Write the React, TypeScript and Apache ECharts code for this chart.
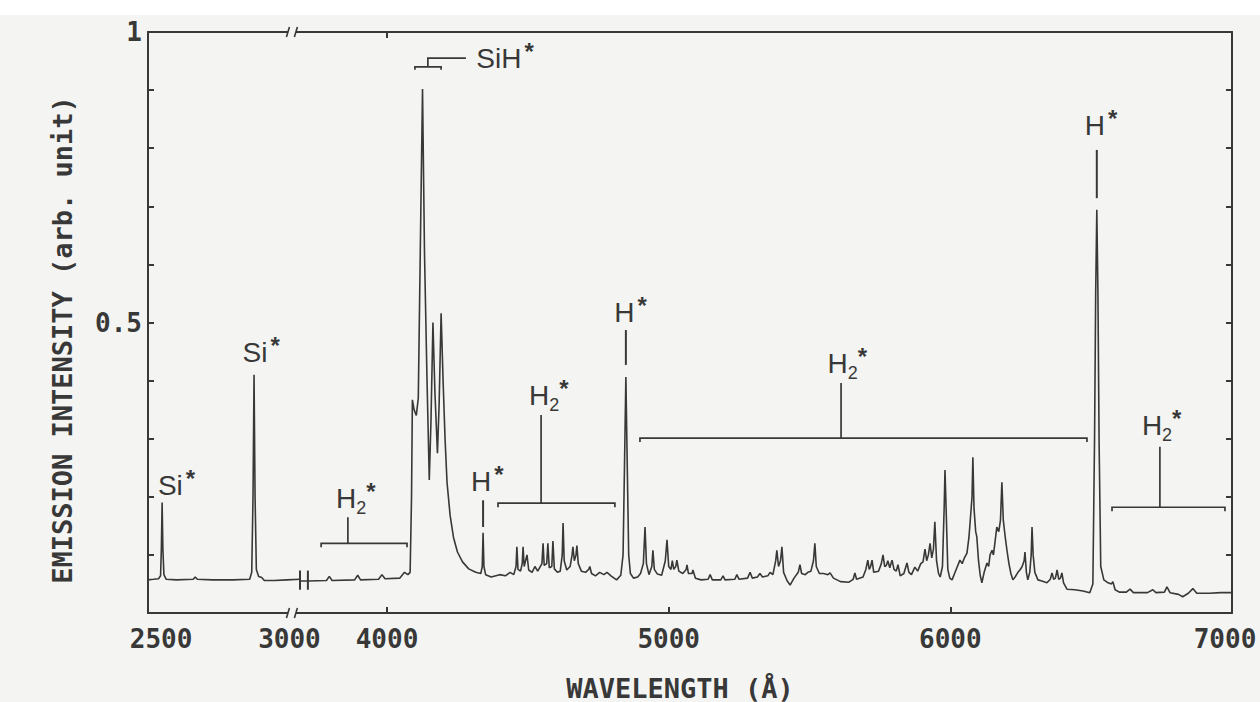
import React, { useEffect, useRef } from 'react';
import * as echarts from 'echarts';

// ---- axes: broken wavelength axis (short-wave and long-wave segments) ----
const shortRange = [2449, 3041];
const longRange = [3691, 7000];
const shortTickLabels = [2500, 3000];
const longTickLabels = [4000, 5000, 6000, 7000];
const longBottomTicks = [4000, 5000, 6000];
const longTopTicks = [4000];
const intensityTickLabels = [0.5, 1];

// ---- emission spectrum, [wavelength (Å), intensity (arb. unit)] ----
const spectrumShort: number[][] = [
  [2449, 0.057], [2470, 0.058], [2490, 0.059], [2498, 0.064], [2501, 0.11], [2504, 0.19], [2507, 0.11],
  [2511, 0.066], [2520, 0.058], [2560, 0.057], [2625, 0.058], [2633, 0.062], [2641, 0.058], [2700, 0.057],
  [2780, 0.057], [2845, 0.058], [2853, 0.07], [2858, 0.2], [2862, 0.41], [2866, 0.2], [2871, 0.075],
  [2880, 0.063], [2892, 0.061], [2902, 0.056], [2940, 0.056], [2990, 0.057], [3041, 0.058],
];

const spectrumLong: number[][] = [
  [3691, 0.055], [3719, 0.055], [3785, 0.056], [3795, 0.063], [3805, 0.056], [3885, 0.057], [3896, 0.065],
  [3906, 0.057], [3970, 0.058], [3982, 0.066], [3993, 0.059], [4045, 0.06], [4062, 0.07], [4074, 0.066],
  [4082, 0.07], [4087, 0.2], [4090, 0.367], [4096, 0.35], [4104, 0.34], [4111, 0.37], [4118, 0.62],
  [4126, 0.902], [4133, 0.62], [4142, 0.4], [4150, 0.229], [4156, 0.33], [4163, 0.5], [4170, 0.38],
  [4179, 0.275], [4185, 0.36], [4192, 0.516], [4199, 0.4], [4206, 0.3], [4213, 0.225], [4224, 0.168],
  [4236, 0.13], [4250, 0.105], [4268, 0.088], [4290, 0.076], [4315, 0.07], [4333, 0.068], [4338, 0.08],
  [4341, 0.138], [4344, 0.08], [4350, 0.066], [4370, 0.062], [4400, 0.066], [4420, 0.064], [4437, 0.07],
  [4450, 0.066], [4458, 0.08], [4461, 0.114], [4465, 0.075], [4474, 0.072], [4480, 0.085], [4483, 0.114],
  [4487, 0.08], [4497, 0.1], [4503, 0.074], [4515, 0.07], [4525, 0.08], [4535, 0.072], [4550, 0.085],
  [4554, 0.12], [4558, 0.082], [4567, 0.085], [4571, 0.12], [4576, 0.078], [4585, 0.08], [4589, 0.124],
  [4594, 0.076], [4605, 0.07], [4615, 0.072], [4622, 0.1], [4625, 0.155], [4629, 0.09], [4638, 0.074],
  [4650, 0.08], [4657, 0.1], [4660, 0.114], [4665, 0.09], [4671, 0.1], [4674, 0.116], [4679, 0.085],
  [4690, 0.072], [4705, 0.07], [4716, 0.075], [4720, 0.08], [4726, 0.068], [4740, 0.064], [4755, 0.07],
  [4770, 0.066], [4781, 0.07], [4795, 0.064], [4815, 0.057], [4830, 0.065], [4838, 0.1], [4843, 0.25],
  [4848, 0.406], [4853, 0.25], [4858, 0.1], [4864, 0.068], [4875, 0.06], [4890, 0.062], [4900, 0.068],
  [4910, 0.085], [4916, 0.148], [4921, 0.085], [4930, 0.066], [4940, 0.08], [4944, 0.108], [4949, 0.075],
  [4960, 0.067], [4975, 0.065], [4988, 0.09], [4994, 0.126], [5000, 0.08], [5008, 0.075], [5013, 0.09],
  [5018, 0.075], [5025, 0.08], [5029, 0.091], [5036, 0.072], [5050, 0.068], [5062, 0.075], [5065, 0.083],
  [5070, 0.068], [5083, 0.068], [5086, 0.074], [5095, 0.06], [5115, 0.057], [5140, 0.058], [5147, 0.066],
  [5155, 0.057], [5185, 0.057], [5193, 0.064], [5200, 0.057], [5235, 0.058], [5242, 0.066], [5250, 0.058],
  [5280, 0.06], [5289, 0.07], [5297, 0.06], [5315, 0.062], [5324, 0.068], [5333, 0.062], [5352, 0.064],
  [5360, 0.07], [5370, 0.066], [5380, 0.09], [5384, 0.108], [5390, 0.08], [5397, 0.09], [5402, 0.114],
  [5408, 0.07], [5420, 0.056], [5431, 0.048], [5445, 0.06], [5460, 0.07], [5466, 0.083], [5472, 0.068],
  [5485, 0.066], [5494, 0.07], [5505, 0.072], [5514, 0.09], [5519, 0.12], [5524, 0.08], [5535, 0.068],
  [5550, 0.068], [5565, 0.066], [5573, 0.069], [5585, 0.06], [5610, 0.054], [5640, 0.053], [5655, 0.058],
  [5661, 0.069], [5667, 0.058], [5690, 0.062], [5700, 0.075], [5707, 0.091], [5712, 0.075], [5717, 0.08],
  [5722, 0.091], [5728, 0.07], [5745, 0.072], [5755, 0.085], [5761, 0.1], [5767, 0.08], [5773, 0.082],
  [5778, 0.09], [5785, 0.078], [5793, 0.091], [5800, 0.075], [5808, 0.072], [5814, 0.083], [5822, 0.064],
  [5835, 0.068], [5846, 0.086], [5853, 0.07], [5862, 0.066], [5874, 0.079], [5884, 0.072], [5895, 0.085],
  [5903, 0.088], [5910, 0.11], [5916, 0.09], [5922, 0.1], [5928, 0.12], [5934, 0.095], [5940, 0.11],
  [5945, 0.157], [5951, 0.09], [5958, 0.068], [5964, 0.062], [5972, 0.08], [5978, 0.18], [5981, 0.246],
  [5985, 0.18], [5991, 0.075], [5998, 0.06], [6006, 0.057], [6015, 0.068], [6025, 0.08], [6034, 0.091],
  [6042, 0.085], [6050, 0.095], [6059, 0.103], [6066, 0.13], [6070, 0.155], [6077, 0.2], [6080, 0.268],
  [6084, 0.18], [6090, 0.14], [6094, 0.131], [6100, 0.09], [6106, 0.065], [6112, 0.052], [6120, 0.07],
  [6130, 0.086], [6136, 0.08], [6141, 0.1], [6148, 0.108], [6153, 0.1], [6158, 0.12], [6165, 0.148],
  [6172, 0.14], [6178, 0.16], [6183, 0.225], [6188, 0.16], [6195, 0.13], [6201, 0.108], [6208, 0.085],
  [6215, 0.068], [6222, 0.057], [6230, 0.062], [6240, 0.07], [6247, 0.074], [6255, 0.08], [6262, 0.09],
  [6265, 0.105], [6270, 0.07], [6275, 0.057], [6282, 0.07], [6287, 0.1], [6290, 0.148], [6294, 0.1],
  [6300, 0.07], [6311, 0.057], [6325, 0.055], [6343, 0.052], [6355, 0.058], [6361, 0.069], [6367, 0.058],
  [6373, 0.06], [6379, 0.074], [6385, 0.058], [6391, 0.06], [6396, 0.069], [6402, 0.052], [6414, 0.041],
  [6442, 0.04], [6471, 0.038], [6495, 0.035], [6506, 0.05], [6512, 0.3], [6516, 0.55], [6520, 0.694],
  [6524, 0.55], [6528, 0.3], [6534, 0.08], [6545, 0.057], [6560, 0.052], [6572, 0.05], [6577, 0.054],
  [6585, 0.04], [6600, 0.036], [6625, 0.036], [6638, 0.041], [6650, 0.035], [6700, 0.035], [6719, 0.04],
  [6730, 0.035], [6760, 0.036], [6769, 0.045], [6780, 0.035], [6810, 0.032], [6825, 0.028], [6845, 0.034],
  [6861, 0.042], [6875, 0.034], [6920, 0.034], [6960, 0.035], [7000, 0.035],
];

// ---- line assignments, in data coordinates ----
type Note = {
  kind: 'tag' | 'cut' | 'axisCut' | 'bracket' | 'pointer' | 'band';
  x?: number; low?: number; high?: number;
  from?: number; to?: number; level?: number; stem?: number; top?: number;
  mid?: number; rise?: number; end?: number;
  labelX?: number; labelY?: number; text?: string; sub?: string;
};

const notesShort: Note[] = [
  { kind: 'tag', labelX: 2536, labelY: 0.203, text: 'Si' },
  { kind: 'tag', labelX: 2866, labelY: 0.432, text: 'Si' },
  { kind: 'axisCut', from: 2994, to: 3025 },
];

const notesLong: Note[] = [
  { kind: 'cut', x: 3691, low: 0.04, high: 0.073 },
  { kind: 'cut', x: 3719, low: 0.04, high: 0.073 },
  { kind: 'bracket', from: 3766, to: 4071, level: 0.12, stem: 3861, top: 0.165, labelX: 3855, labelY: 0.181, text: 'H', sub: '2' },
  { kind: 'pointer', x: 4341, low: 0.148, high: 0.194, labelX: 4334, labelY: 0.21, text: 'H' },
  { kind: 'bracket', from: 4394, to: 4809, level: 0.189, stem: 4547, top: 0.341, labelX: 4540, labelY: 0.358, text: 'H', sub: '2' },
  { kind: 'pointer', x: 4848, low: 0.427, high: 0.487, labelX: 4843, labelY: 0.501, text: 'H' },
  { kind: 'bracket', from: 4898, to: 6485, level: 0.301, stem: 5612, top: 0.396, labelX: 5600, labelY: 0.413, text: 'H', sub: '2' },
  { kind: 'pointer', x: 6520, low: 0.714, high: 0.797, labelX: 6513, labelY: 0.823, text: 'H' },
  { kind: 'bracket', from: 6574, to: 6975, level: 0.182, stem: 6744, top: 0.286, labelX: 6716, labelY: 0.306, text: 'H', sub: '2' },
  { kind: 'band', from: 4099, to: 4192, level: 0.94, mid: 4145, rise: 0.955, end: 4280, labelX: 4397, labelY: 0.938, text: 'SiH' },
];

const INK = '#383838';
const BG = '#f4f5f2';
const LABEL_FONT = '"Liberation Sans", Arial, sans-serif';
const MONO_FONT = '"DejaVu Sans Mono", monospace';
const ADVANCE: Record<string, number> = { H: 0.722, S: 0.667, i: 0.222 };

// species label as one rich text: base letters (foot of the capitals at
// `bottom`, centred on cx), optional subscript, and the excited-state asterisk
function speciesLabel(cx: number, bottom: number, base: string, sub?: string) {
  const fs = 28;
  const lineH = 38;
  const w = [...base].reduce((s, c) => s + (ADVANCE[c] ?? 0.6), 0) * fs;
  const rich = {
    b: { fontSize: fs, lineHeight: lineH, fontFamily: LABEL_FONT, fill: INK },
    s: { fontSize: 18, lineHeight: 21, fontFamily: LABEL_FONT, fill: INK, verticalAlign: 'bottom' },
    st: {
      fontSize: 24, lineHeight: sub ? 16 : 22, fontFamily: LABEL_FONT, fontWeight: 'bold', fill: INK,
      verticalAlign: 'top', padding: sub ? [0, 0, 0, 0] : [0, 0, 0, 3],
    },
  };
  const text = sub ? `{b|${base}}{s|${sub}}{st|*}` : `{b|${base}}{st|*}`;
  return {
    type: 'text',
    x: cx - w / 2,
    y: bottom - (lineH / 2 + 0.35 * fs),
    style: {
      text, rich, fill: INK, fontSize: fs, fontFamily: LABEL_FONT,
      align: 'left', verticalAlign: 'top', textAlign: 'left', textVerticalAlign: 'top',
    },
  };
}

function noteRenderer(notes: Note[]) {
  return (params: any, api: any) => {
    const n = notes[params.dataIndex];
    const at = (x: number, y: number) => api.coord([x, y]);
    const kids: any[] = [];
    const stroke = (pts: number[][], w = 1.7) =>
      kids.push({ type: 'polyline', shape: { points: pts }, style: { stroke: INK, lineWidth: w, fill: null } });
    const label = () => {
      const p = at(n.labelX!, n.labelY!);
      kids.push(speciesLabel(p[0], p[1], n.text!, n.sub));
    };

    if (n.kind === 'tag') {
      label();
    } else if (n.kind === 'cut') {
      stroke([at(n.x!, n.low!), at(n.x!, n.high!)], 2);
    } else if (n.kind === 'axisCut') {
      [0, 1].forEach((lv) => {
        const a = at(n.from!, lv);
        const b = at(n.to!, lv);
        kids.push({ type: 'rect', shape: { x: a[0], y: a[1] - 3, width: b[0] - a[0], height: 6 }, style: { fill: BG } });
        stroke([[a[0] - 1.5, a[1] + 5], [a[0] + 1.5, a[1] - 5]], 1.6);
        stroke([[b[0] - 1.5, b[1] + 5], [b[0] + 1.5, b[1] - 5]], 1.6);
      });
    } else if (n.kind === 'bracket') {
      const a = at(n.from!, n.level!);
      const b = at(n.to!, n.level!);
      stroke([[a[0], a[1] + 4], a, b, [b[0], b[1] + 4]]);
      stroke([at(n.stem!, n.level!), at(n.stem!, n.top!)]);
      label();
    } else if (n.kind === 'pointer') {
      stroke([at(n.x!, n.low!), at(n.x!, n.high!)], 2);
      label();
    } else if (n.kind === 'band') {
      const a = at(n.from!, n.level!);
      const b = at(n.to!, n.level!);
      stroke([[a[0], a[1] + 3], a, b, [b[0], b[1] + 3]]);
      stroke([at(n.mid!, n.level!), at(n.mid!, n.rise!), at(n.end!, n.rise!)]);
      label();
    }
    return { type: 'group', children: kids };
  };
}

const axisLineStyle = { show: true, onZero: false, lineStyle: { color: INK, width: 2 } };
const tickFont = { color: INK, fontSize: 26, fontFamily: MONO_FONT, fontWeight: 'bold' };
const tickLabelStyle = { ...tickFont, formatter: (v: number) => String(v) };
const titleStyle = {
  fill: INK, fontSize: 27, fontFamily: MONO_FONT, fontWeight: 'bold',
  align: 'center', verticalAlign: 'middle', textAlign: 'center', textVerticalAlign: 'middle',
};

export default function App() {
  const ref = useRef<HTMLDivElement>(null);

  useEffect(() => {
    if (!ref.current) return;
    const chart = echarts.init(ref.current, null, { renderer: 'svg' });
    chart.setOption({
      animation: false,
      backgroundColor: BG,
      grid: [
        { left: 148, top: 32, width: 152, height: 581, outerBoundsMode: 'none', containLabel: false },
        { left: 300, top: 32, width: 932, height: 581, outerBoundsMode: 'none', containLabel: false },
      ],
      xAxis: [
        {
          gridIndex: 0, type: 'value', position: 'bottom', min: shortRange[0], max: shortRange[1],
          axisLine: axisLineStyle, axisTick: { show: false }, splitLine: { show: false },
          axisLabel: { ...tickLabelStyle, margin: 13, customValues: shortTickLabels },
        },
        {
          gridIndex: 0, type: 'value', position: 'top', min: shortRange[0], max: shortRange[1],
          axisLine: axisLineStyle, axisTick: { show: false }, splitLine: { show: false }, axisLabel: { show: false },
        },
        {
          gridIndex: 1, type: 'value', position: 'bottom', min: longRange[0], max: longRange[1],
          axisLine: axisLineStyle, splitLine: { show: false },
          axisTick: { show: true, inside: true, length: 6, customValues: longBottomTicks, lineStyle: { color: INK, width: 2 } },
          axisLabel: {
            ...tickFont, margin: 13, customValues: longTickLabels,
            // the last label sits slightly inside the frame corner
            formatter: (v: number) => (v === longRange[1] ? `{end|${v}}` : String(v)),
            rich: { end: { ...tickFont, padding: [0, 14, 0, 0] } },
          },
        },
        {
          gridIndex: 1, type: 'value', position: 'top', min: longRange[0], max: longRange[1],
          axisLine: axisLineStyle, splitLine: { show: false }, axisLabel: { show: false },
          axisTick: { show: true, inside: true, length: 6, customValues: longTopTicks, lineStyle: { color: INK, width: 2 } },
        },
      ],
      yAxis: [
        {
          gridIndex: 0, type: 'value', position: 'left', min: 0, max: 1, interval: 0.1,
          axisLine: axisLineStyle, splitLine: { show: false },
          axisTick: { show: true, inside: true, length: 6, lineStyle: { color: INK, width: 2 } },
          axisLabel: { ...tickLabelStyle, margin: 6, customValues: intensityTickLabels },
        },
        {
          gridIndex: 1, type: 'value', position: 'right', min: 0, max: 1, interval: 0.1,
          axisLine: axisLineStyle, splitLine: { show: false }, axisLabel: { show: false },
          axisTick: { show: true, inside: true, length: 6, lineStyle: { color: INK, width: 2 } },
        },
      ],
      series: [
        {
          type: 'line', xAxisIndex: 0, yAxisIndex: 0, data: spectrumShort, showSymbol: false,
          lineStyle: { color: INK, width: 1.6 }, silent: true,
        },
        {
          type: 'line', xAxisIndex: 2, yAxisIndex: 1, data: spectrumLong, showSymbol: false,
          lineStyle: { color: INK, width: 1.6 }, silent: true,
        },
        {
          type: 'custom', xAxisIndex: 0, yAxisIndex: 0, clip: false, silent: true, z: 5,
          data: notesShort.map(() => [shortRange[0], 0]),
          renderItem: noteRenderer(notesShort),
        },
        {
          type: 'custom', xAxisIndex: 2, yAxisIndex: 1, clip: false, silent: true, z: 5,
          data: notesLong.map(() => [longRange[0], 0]),
          renderItem: noteRenderer(notesLong),
        },
      ],
      graphic: [
        { type: 'rect', z: -10, shape: { x: 0, y: 0, width: 1260, height: 15 }, style: { fill: '#ffffff' } },
        {
          type: 'text', x: 62, y: 340, rotation: Math.PI / 2,
          style: { ...titleStyle, text: 'EMISSION INTENSITY (arb. unit)' },
        },
        {
          type: 'text', x: 680, y: 688,
          style: { ...titleStyle, text: 'WAVELENGTH (Å)' },
        },
      ],
    });
    return () => chart.dispose();
  }, []);

  return <div ref={ref} style={{ position: 'absolute', left: 0, top: 0, width: 1260, height: 702 }} />;
}
